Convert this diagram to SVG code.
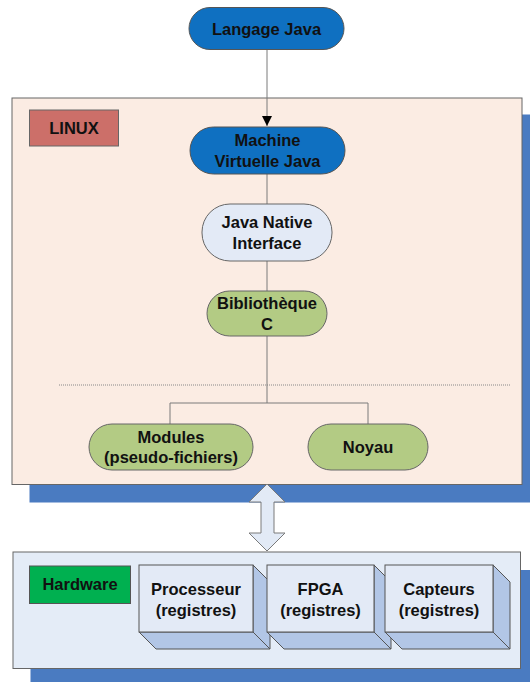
<svg xmlns="http://www.w3.org/2000/svg" width="530" height="682" viewBox="0 0 530 682">
<defs>
<style>
.t{font-family:"Liberation Sans",Arial,sans-serif;font-weight:bold;font-size:16.5px;fill:#111;text-anchor:middle}
.shadow{fill:#4A7BC1}
.pillB{fill:#0F70C1;stroke:#555;stroke-width:1}
.pillL{fill:#E3EAF6;stroke:#666;stroke-width:1}
.pillG{fill:#B3CB84;stroke:#666;stroke-width:1}
.conn{stroke:#7a7a7a;stroke-width:1;fill:none}
.front{fill:#E3EAF6;stroke:#555;stroke-width:1}
.side{fill:#B2C6E6;stroke:#555;stroke-width:1}
</style>
<marker id="arr" viewBox="0 0 10 10" refX="10" refY="5" markerWidth="10" markerHeight="10" markerUnits="userSpaceOnUse" orient="auto">
<path d="M0,0 L10,5 L0,10 Z" fill="#000"/>
</marker>
</defs>

<g id="linux-panel">
<rect class="shadow" x="29.5" y="114.5" width="520" height="388"/>
<rect x="12" y="98" width="510" height="386.5" fill="#FBECE3" stroke="#666" stroke-width="1"/>
<rect x="29.5" y="110" width="89" height="36" fill="#CC6F69" stroke="#666" stroke-width="1"/>
<text class="t" x="74" y="133.5">LINUX</text>
<line x1="59" y1="385" x2="510" y2="385" stroke="#888" stroke-width="1" stroke-dasharray="1,1"/>
</g>

<g id="hardware-panel">
<rect class="shadow" x="30.5" y="570" width="520" height="120"/>
<rect x="13" y="552" width="507.5" height="116.5" fill="#E4ECF7" stroke="#666" stroke-width="1"/>
<rect x="29.5" y="566" width="101" height="37.5" fill="#00B050" stroke="#555" stroke-width="1"/>
<text class="t" x="80" y="589.5">Hardware</text>
</g>

<g id="connectors">
<line class="conn" x1="267" y1="50" x2="267" y2="126" marker-end="url(#arr)"/>
<line class="conn" x1="267" y1="174" x2="267" y2="204"/>
<line class="conn" x1="267" y1="261" x2="267" y2="291"/>
<path class="conn" d="M267,336 V403 M170,424 V403 H368 V424"/>
<polygon points="267,484 285,502 274,502 274,533 285,533 267,551 249,533 261,533 261,502 249,502" fill="#E2EAF6" stroke="#7a7a7a" stroke-width="1"/>
</g>

<g id="langage-java">
<rect class="pillB" x="189" y="7.5" width="155" height="42" rx="21"/>
<text class="t" x="266.5" y="34.5">Langage Java</text>
</g>

<g id="jvm">
<rect class="pillB" x="190" y="127" width="155" height="47" rx="23.5"/>
<text class="t" x="267.5" y="145.5">Machine</text>
<text class="t" x="267.5" y="166.5">Virtuelle Java</text>
</g>

<g id="jni">
<rect class="pillL" x="202" y="204" width="130" height="57" rx="28"/>
<text class="t" x="267" y="227.5">Java Native</text>
<text class="t" x="267" y="248.5">Interface</text>
</g>

<g id="libc">
<rect class="pillG" x="207" y="291" width="120" height="45" rx="22.5"/>
<text class="t" x="267" y="308.5">Bibliothèque</text>
<text class="t" x="267" y="329.5">C</text>
</g>

<g id="modules">
<rect class="pillG" x="89" y="424" width="164" height="46" rx="23"/>
<text class="t" x="171" y="442.5">Modules</text>
<text class="t" x="171" y="462.5">(pseudo-fichiers)</text>
</g>

<g id="noyau">
<rect class="pillG" x="308" y="424" width="120" height="46" rx="23"/>
<text class="t" x="368" y="452.5">Noyau</text>
</g>

<g id="processeur">
<polygon class="side" points="253,565 270,582 270,649 253,632"/>
<polygon class="side" points="139,632 253,632 270,649 156,649"/>
<rect class="front" x="139" y="565" width="114" height="67"/>
<text class="t" x="196" y="594.5">Processeur</text>
<text class="t" x="196" y="615.5">(registres)</text>
</g>

<g id="fpga">
<polygon class="side" points="374,565 391,582 391,649 374,632"/>
<polygon class="side" points="267,632 374,632 391,649 284,649"/>
<rect class="front" x="267" y="565" width="107" height="67"/>
<text class="t" x="320.5" y="594.5">FPGA</text>
<text class="t" x="320.5" y="615.5">(registres)</text>
</g>

<g id="capteurs">
<polygon class="side" points="493,565 510,582 510,649 493,632"/>
<polygon class="side" points="385,632 493,632 510,649 402,649"/>
<rect class="front" x="385" y="565" width="108" height="67"/>
<text class="t" x="439" y="594.5">Capteurs</text>
<text class="t" x="439" y="615.5">(registres)</text>
</g>
</svg>
